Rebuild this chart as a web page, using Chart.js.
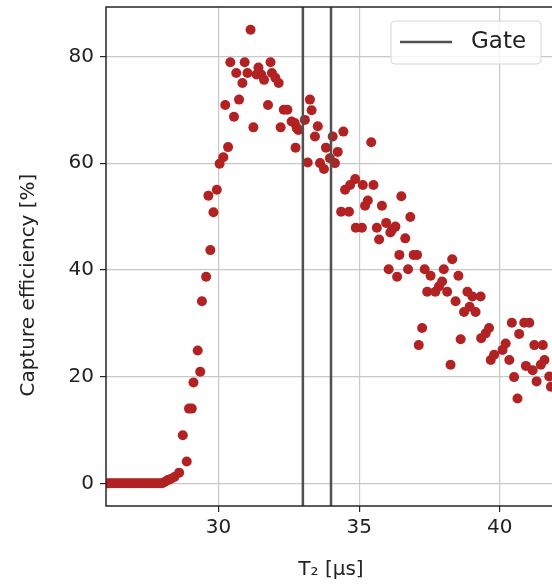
<!DOCTYPE html>
<html>
<head>
<meta charset="utf-8">
<script src="https://cdn.jsdelivr.net/npm/chart.js@4/dist/chart.umd.min.js"></script>
<style>
  body { margin: 0; overflow: hidden; background: #fff; }
  #wrap { width: 556px; height: 586px; }
</style>
</head>
<body>
<div id="wrap"><canvas id="myChart" width="556" height="586"></canvas></div>
<script>
// T2 values (us) and capture efficiency (%)
var t2 = [
  26.0, 26.1, 26.2, 26.3, 26.4, 26.5, 26.6, 26.7, 26.8, 26.9,
  27.0, 27.1, 27.2, 27.3, 27.4, 27.5, 27.6, 27.7, 27.8, 27.9,
  28.0, 28.1, 28.2, 28.3, 28.43, 28.6, 28.73, 28.87, 28.95, 29.05,
  29.11, 29.26, 29.35, 29.41, 29.56, 29.64, 29.71, 29.82, 29.94, 30.04,
  30.17, 30.24, 30.34, 30.42, 30.55, 30.63, 30.73, 30.85, 30.93, 31.03,
  31.14, 31.24, 31.35, 31.42, 31.52, 31.62, 31.76, 31.85, 31.9, 32.02,
  32.14, 32.21, 32.32, 32.45, 32.6, 32.71, 32.74, 32.78, 32.84, 33.07,
  33.17, 33.25, 33.31, 33.43, 33.53, 33.61, 33.75, 33.82, 33.96, 34.06,
  34.14, 34.24, 34.36, 34.44, 34.5, 34.64, 34.68, 34.86, 34.88, 35.1,
  35.13, 35.21, 35.31, 35.43, 35.51, 35.63, 35.71, 35.81, 35.96, 36.05,
  36.11, 36.17, 36.29, 36.35, 36.43, 36.5, 36.64, 36.74, 36.82, 36.94,
  37.06, 37.12, 37.24, 37.33, 37.42, 37.54, 37.71, 37.84, 37.95, 38.01,
  38.13, 38.25, 38.31, 38.43, 38.53, 38.61, 38.73, 38.85, 38.93, 39.03,
  39.14, 39.32, 39.34, 39.5, 39.62, 39.68, 39.8, 40.1, 40.21, 40.34,
  40.43, 40.51, 40.63, 40.69, 40.87, 40.93, 41.05, 41.17, 41.23, 41.31,
  41.46, 41.53, 41.59, 41.76, 41.82, 41.95
];
var efficiency = [
  0, 0, 0, 0, 0, 0, 0, 0, 0, 0,
  0, 0, 0, 0, 0, 0, 0, 0, 0, 0,
  0, 0.3, 0.6, 0.8, 1.2, 2.0, 9.0, 4.1, 14, 14,
  18.9, 24.9, 20.9, 34.1, 38.7, 53.9, 43.7, 50.8, 55.0, 59.9,
  61.1, 70.9, 63.0, 78.9, 68.7, 76.9, 71.9, 75.0, 78.9, 76.9,
  85.0, 66.7, 76.6, 77.9, 76.6, 75.6, 70.9, 78.9, 76.9, 76.0,
  75.0, 66.7, 70.0, 70.0, 67.8, 67.5, 62.9, 66.6, 66.2, 68.1,
  60.1, 71.9, 69.9, 65.0, 66.9, 60.0, 58.9, 62.9, 60.9, 65.0,
  60.0, 62.1, 50.9, 65.9, 55.0, 50.9, 55.9, 57.0, 47.9, 47.9,
  55.9, 52.0, 53.0, 63.9, 55.9, 47.9, 45.7, 52.0, 48.8, 40.1,
  47.0, 47.5, 48.1, 38.7, 42.8, 53.8, 45.9, 40.1, 49.9, 42.8,
  42.8, 25.9, 29.1, 40.1, 35.9, 38.9, 35.9, 36.9, 37.8, 40.1,
  35.9, 22.2, 42.0, 34.1, 38.9, 27.0, 32.1, 35.9, 33.1, 35.0,
  32.1, 35.0, 27.2, 28.1, 29.1, 23.1, 24.1, 25.0, 26.2, 23.1,
  30.1, 19.9, 15.9, 28.0, 30.1, 22.0, 30.1, 21.2, 25.9, 19.1,
  22.2, 25.9, 23.1, 20.0, 18.1, 20.0
];
var gateX = [33, 34];
var xTicks = [30, 35, 40];
var yTicks = [0, 20, 40, 60, 80];
var xMin = 26, xMax = 42;
var yMin = -4.25, yMax = 89.25;

var points = t2.map(function (t, i) { return { x: t, y: efficiency[i] }; });

// vertical gate lines, broken by a null point between them
var gatePts = [];
gateX.forEach(function (g, i) {
    if (i > 0) gatePts.push({ x: (gateX[i - 1] + g) / 2, y: null });
    gatePts.push({ x: g, y: yMin });
    gatePts.push({ x: g, y: yMax });
});

var gateColor = '#505050';
var font = "'DejaVu Sans', sans-serif";

// full frame around the plot area (matplotlib spines)
var framePlugin = {
    id: 'frame',
    afterDatasetsDraw: function (chart) {
        var a = chart.chartArea, ctx = chart.ctx;
        ctx.save();
        ctx.strokeStyle = '#262626';
        ctx.lineWidth = 1.5;
        ctx.strokeRect(a.left, a.top, a.right - a.left, a.bottom - a.top);
        ctx.restore();
    }
};

// y axis label, sitting a bit below the middle of the plot as in the original
var yLabelPlugin = {
    id: 'yLabel',
    afterDraw: function (chart) {
        var ctx = chart.ctx;
        ctx.save();
        ctx.translate(29, 285);
        ctx.rotate(-Math.PI / 2);
        ctx.fillStyle = '#222';
        ctx.font = "20px " + font;
        ctx.textAlign = 'center';
        ctx.textBaseline = 'middle';
        ctx.fillText('Capture efficiency [%]', 0, 0);
        ctx.restore();
    }
};

// matplotlib-style legend box in the top right
var legendPlugin = {
    id: 'mplLegend',
    afterDraw: function (chart) {
        var ctx = chart.ctx;
        var bx = 391, by = 21, bw = 150, bh = 43, r = 4;
        ctx.save();
        ctx.beginPath();
        ctx.moveTo(bx + r, by);
        ctx.arcTo(bx + bw, by, bx + bw, by + bh, r);
        ctx.arcTo(bx + bw, by + bh, bx, by + bh, r);
        ctx.arcTo(bx, by + bh, bx, by, r);
        ctx.arcTo(bx, by, bx + bw, by, r);
        ctx.closePath();
        ctx.fillStyle = 'rgba(255,255,255,0.8)';
        ctx.fill();
        ctx.strokeStyle = '#d6d6d6';
        ctx.lineWidth = 1;
        ctx.stroke();
        ctx.strokeStyle = gateColor;
        ctx.lineWidth = 2.5;
        ctx.beginPath();
        ctx.moveTo(400, 42);
        ctx.lineTo(452, 42);
        ctx.stroke();
        ctx.fillStyle = '#222';
        ctx.font = "23px " + font;
        ctx.textBaseline = 'middle';
        ctx.fillText('Gate', 471, 42);
        ctx.restore();
    }
};

var ctx = document.getElementById('myChart').getContext('2d');
new Chart(ctx, {
    type: 'scatter',
    data: {
        datasets: [
            {
                label: 'Gate',
                data: gatePts,
                showLine: true,
                spanGaps: false,
                borderColor: gateColor,
                borderWidth: 2.5,
                pointRadius: 0,
                clip: 0
            },
            {
                label: 'data',
                data: points,
                backgroundColor: '#b22222',
                borderWidth: 0,
                pointRadius: 5,
                clip: 0
            }
        ]
    },
    plugins: [framePlugin, yLabelPlugin, legendPlugin],
    options: {
        responsive: false,
        animation: false,
        layout: { autoPadding: false, padding: { top: 7, left: 0, right: 0, bottom: 0 } },
        plugins: {
            legend: { display: false },
            tooltip: { enabled: false }
        },
        scales: {
            x: {
                type: 'linear',
                min: xMin,
                max: xMax,
                afterBuildTicks: function (scale) {
                    scale.ticks = xTicks.map(function (v) { return { value: v }; });
                },
                afterFit: function (scale) {
                    scale.height = 80;
                    scale.paddingLeft = 0;
                    scale.paddingRight = 0;
                },
                grid: { color: '#c8c8c8', lineWidth: 1.2, tickColor: '#262626', tickLength: 6 },
                border: { display: false },
                ticks: { color: '#222', font: { family: font, size: 20 }, padding: 4, maxRotation: 0 },
                title: {
                    display: true,
                    text: 'T\u2082 [\u03bcs]',
                    color: '#222',
                    font: { family: font, size: 20 },
                    padding: { top: 0, bottom: 4 }
                }
            },
            y: {
                type: 'linear',
                min: yMin,
                max: yMax,
                afterBuildTicks: function (scale) {
                    scale.ticks = yTicks.map(function (v) { return { value: v }; });
                },
                afterFit: function (scale) {
                    scale.width = 106;
                    scale.paddingTop = 0;
                    scale.paddingBottom = 0;
                },
                grid: { color: '#c8c8c8', lineWidth: 1.2, tickColor: '#262626', tickLength: 6 },
                border: { display: false },
                ticks: { color: '#222', font: { family: font, size: 20 }, padding: 6 },
                title: { display: false }
            }
        }
    }
});
</script>
</body>
</html>
